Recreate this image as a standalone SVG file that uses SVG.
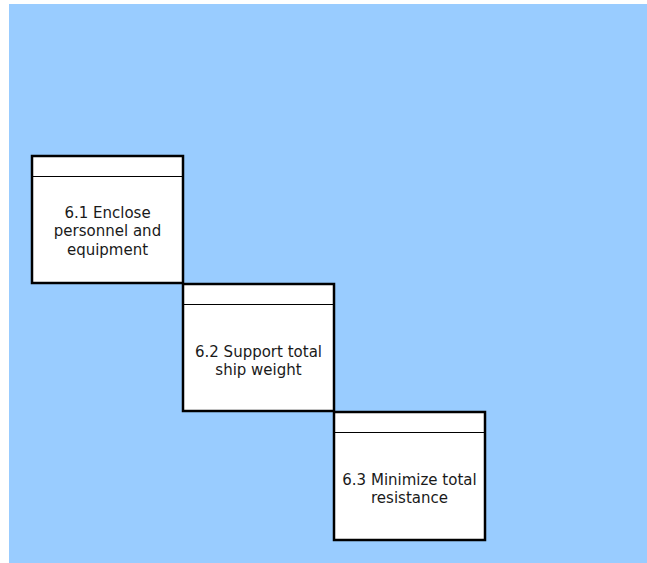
<svg xmlns="http://www.w3.org/2000/svg" width="647" height="563" viewBox="0 0 647 563">
<style>
.box{fill:#ffffff;stroke:#000000;stroke-width:2.5}
.hdr{stroke:#000000;stroke-width:1}
.lbl{font-family:"DejaVu Sans",Verdana,sans-serif;font-size:15px;fill:#1a1a1a;text-anchor:middle}
</style>
<rect x="9" y="4" width="638" height="559" fill="#99ccff"/>
<g id="connectors"></g>
<g id="node-6-1">
<rect class="box" x="32" y="156" width="151" height="127"/>
<line class="hdr" x1="32" y1="176.5" x2="183" y2="176.5"/>
<text class="lbl" x="107.5" y="217.5">6.1 Enclose</text>
<text class="lbl" x="107.5" y="236">personnel and</text>
<text class="lbl" x="107.5" y="254.5">equipment</text>
</g>
<g id="node-6-2">
<rect class="box" x="183" y="284" width="151" height="127"/>
<line class="hdr" x1="183" y1="304.5" x2="334" y2="304.5"/>
<text class="lbl" x="258.5" y="356.5">6.2 Support total</text>
<text class="lbl" x="258.5" y="375">ship weight</text>
</g>
<g id="node-6-3">
<rect class="box" x="334" y="412" width="151" height="128"/>
<line class="hdr" x1="334" y1="432.5" x2="485" y2="432.5"/>
<text class="lbl" x="409.5" y="484.5">6.3 Minimize total</text>
<text class="lbl" x="409.5" y="503">resistance</text>
</g>
</svg>
